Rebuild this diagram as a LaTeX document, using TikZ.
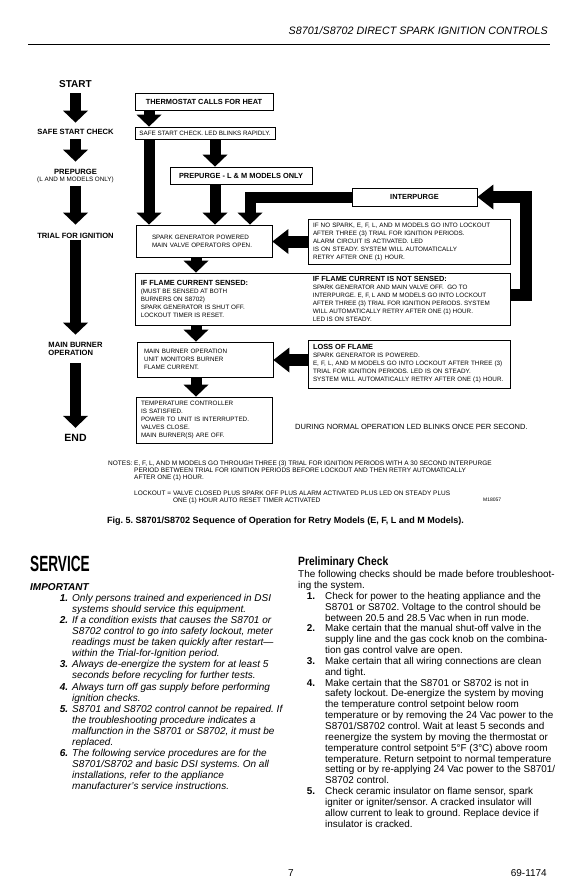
\documentclass[tikz,border=0pt]{standalone}
\usepackage{fontspec}
\setmainfont{Liberation Sans}
\usepackage{graphicx}
\usetikzlibrary{arrows.meta,positioning,calc}
\frenchspacing

\newcommand{\sm}{\fontsize{6.3}{8}\selectfont}
\newcommand{\hd}{\fontsize{7.4}{8}\selectfont\bfseries}
\newcommand{\inum}[1]{\makebox[38pt][r]{\bfseries#1}\hspace{4pt}}
\newcommand{\icnt}{\hspace*{42pt}}
\newcommand{\pnum}[1]{\makebox[17pt][r]{\bfseries#1}\hspace{10pt}}
\newcommand{\pcnt}{\hspace*{27pt}}

\begin{document}
\begin{tikzpicture}[x=1pt, y=-1pt,
  box/.style={draw, line width=0.8pt, inner sep=0pt, font=\sm},
  txt/.style={inner sep=0pt, align=left, font=\sm},
  lbl/.style={inner sep=0pt, align=center, font=\fontsize{7.6}{8}\selectfont\bfseries},
  fat/.style={line width=11pt, -{Triangle[width=25pt, length=12pt, line width=0pt]}},
  fatl/.style={line width=12pt, -{Triangle[width=25pt, length=16pt, line width=0pt]}},
  body/.style={inner sep=0pt, anchor=base west},
]

% page
\path[use as bounding box, fill=white] (0,0) rectangle (577,892);

% running head
\node[body, anchor=base east, font=\fontsize{10.7}{12}\selectfont\itshape] (head) at (548,34) {S8701/S8702 DIRECT SPARK IGNITION CONTROLS};
\draw[line width=0.8pt] (28,44) -- (550,44);

% left column of the chart
\node[lbl, font=\fontsize{10}{12}\selectfont\bfseries] (lstart) at (75.5,84) {START};
\node[lbl] (lsafe) at (75.5,132) {SAFE START CHECK};
\node[lbl] (lprep) at (75.5,172) {PREPURGE};
\node[lbl, font=\sm, below=1.8pt of lprep] (lprepsub) {(L AND M MODELS ONLY)};
\node[lbl] (ltrial) at (75.5,236) {TRIAL FOR IGNITION};
\node[lbl, align=left] (lmain) at (75.5,349) {MAIN BURNER\\OPERATION};
\node[lbl, font=\fontsize{10.5}{12}\selectfont\bfseries] (lend) at (75.5,438) {END};

\draw[fat, shorten <=5.4pt, shorten >=6.5pt] (lstart) -- (lsafe);
\draw[fat, shorten <=4.5pt, shorten >=7.5pt] (lsafe) -- (lprep);
\draw[fat, shorten <=2.7pt, shorten >=8.5pt] (lprepsub) -- (ltrial);
\draw[fat, shorten <=1.5pt, shorten >=7.5pt] (ltrial) -- (lmain);
\draw[fat, shorten <=7.5pt, shorten >=6.4pt] (lmain) -- (lend);

% boxes
\node[box, font=\hd, minimum width=138pt, minimum height=17pt] (thermo) at (204,101.5) {THERMOSTAT CALLS FOR HEAT};
\node[box, minimum width=140pt, minimum height=12pt] (safe) at (205,133) {SAFE START CHECK. LED BLINKS RAPIDLY.};
\node[box, font=\hd, minimum width=142pt, minimum height=17pt] (prep) at (241,175.5) {PREPURGE - L \& M MODELS ONLY};
\node[box, font=\hd, minimum width=125pt, minimum height=18pt] (inter) at (414.5,197) {INTERPURGE};
\node[box, align=left, text width=104pt, inner xsep=16pt, minimum height=32pt] (spark) at (204,241) {SPARK GENERATOR POWERED\\MAIN VALVE OPERATORS OPEN.};
\node[box, align=left, text width=192pt, inner xsep=5pt, minimum height=45pt] (nospark) at (409,241.5) {IF NO SPARK, E, F, L, AND M MODELS GO INTO LOCKOUT\\AFTER THREE (3) TRIAL FOR IGNITION PERIODS.\\ALARM CIRCUIT IS ACTIVATED. LED\\IS ON STEADY. SYSTEM WILL AUTOMATICALLY\\RETRY AFTER ONE (1) HOUR.};
\node[box, minimum width=375pt, minimum height=52pt] (sensed) at (322.5,299) {};
\node[txt, anchor=west] (sensedl) at ([xshift=6pt]sensed.west) {{\hd IF FLAME CURRENT SENSED:}\\(MUST BE SENSED AT BOTH\\BURNERS ON S8702)\\SPARK GENERATOR IS SHUT OFF.\\LOCKOUT TIMER IS RESET.};
\node[txt, anchor=west] (sensedr) at ([xshift=178pt]sensed.west) {{\hd IF FLAME CURRENT IS NOT SENSED:}\\SPARK GENERATOR AND MAIN VALVE OFF.~ GO TO\\INTERPURGE. E, F, L AND M MODELS GO INTO LOCKOUT\\AFTER THREE (3) TRIAL FOR IGNITION PERIODS. SYSTEM\\WILL AUTOMATICALLY RETRY AFTER ONE (1) HOUR.\\LED IS ON STEADY.};
\node[box, align=left, text width=122pt, inner xsep=7pt, minimum height=35pt] (mainb) at (205,359.5) {MAIN BURNER OPERATION\\UNIT MONITORS BURNER\\FLAME CURRENT.};
\node[box, align=left, text width=192pt, inner xsep=5pt, minimum height=48pt] (lossf) at (409,364) {{\hd LOSS OF FLAME}\\SPARK GENERATOR IS POWERED.\\E, F, L, AND M MODELS GO INTO LOCKOUT AFTER THREE (3)\\TRIAL FOR IGNITION PERIODS. LED IS ON STEADY.\\SYSTEM WILL AUTOMATICALLY RETRY AFTER ONE (1) HOUR.};
\node[box, align=left, text width=126pt, inner xsep=5pt, minimum height=46pt] (temp) at (204,420) {TEMPERATURE CONTROLLER\\IS SATISFIED.\\POWER TO UNIT IS INTERRUPTED.\\VALVES CLOSE.\\MAIN BURNER(S) ARE OFF.};

% flow between the boxes
\draw[fat] ([xshift=-55pt]thermo.south) -- ([xshift=-55pt]thermo.south |- safe.north);
\draw[fat] ([xshift=-56pt]safe.south) -- ([xshift=-56pt]safe.south |- spark.north);
\draw[fat] ([xshift=10pt]safe.south) -- ([xshift=10pt]safe.south |- prep.north);
\draw[fat] ([xshift=-26pt]prep.south) -- ([xshift=-26pt]prep.south |- spark.north);
\draw[fat] (inter.west) -| ([xshift=46pt]spark.north);
\draw[fatl] (nospark.west) -- (nospark.west -| spark.east);
\draw[fatl] ([yshift=4pt]sensed.east) -- ++(16,0) |- (inter.east);
\draw[fat] ([xshift=-8pt]spark.south) -- ([xshift=-8pt]spark.south |- sensed.north);
\draw[fat] ([xshift=-9pt]mainb.north |- sensed.south) -- ([xshift=-9pt]mainb.north);
\draw[fat] ([xshift=-9pt]mainb.south) -- ([xshift=-9pt]mainb.south |- temp.north);
\draw[fatl] ([yshift=4pt]lossf.west) -- ([yshift=4pt]lossf.west -| mainb.east);

\node[body, font=\fontsize{7.5}{8}\selectfont] (normal) at (295,429.7) {DURING NORMAL OPERATION LED BLINKS ONCE PER SECOND.};

% notes and caption
\node[body, font=\fontsize{6.5}{7}\selectfont] (notes) at (108,465.3) {NOTES:};
\node[body] (notetxt) at (134,465.3) {\parbox[t]{420pt}{\fontsize{6.5}{7}\selectfont
E, F, L, AND M MODELS GO THROUGH THREE (3) TRIAL FOR IGNITION PERIODS WITH A 30 SECOND INTERPURGE\\
PERIOD BETWEEN TRIAL FOR IGNITION PERIODS BEFORE LOCKOUT AND THEN RETRY AUTOMATICALLY\\
AFTER ONE (1) HOUR.}};
\node[body] (lockout) at (134,495) {\parbox[t]{420pt}{\fontsize{6.5}{7}\selectfont
LOCKOUT = VALVE CLOSED PLUS SPARK OFF PLUS ALARM ACTIVATED PLUS LED ON STEADY PLUS\\
\hphantom{LOCKOUT = }ONE (1) HOUR AUTO RESET TIMER ACTIVATED}};
\node[body, font=\fontsize{5}{6}\selectfont] (mark) at (483,501) {M18057};
\node[body, font=\fontsize{9}{11}\selectfont\bfseries] (caption) at (107,523.5) {Fig. 5. S8701/S8702 Sequence of Operation for Retry Models (E, F, L and M Models).};

% service column
\node[body] (service) at (30,571.5) {\scalebox{0.62}[1]{\fontsize{22}{24}\selectfont\bfseries SERVICE}};
\node[body, font=\fontsize{10}{11}\selectfont\bfseries\itshape] (important) at (30,590.6) {IMPORTANT};
\node[body] (implist) at (30,601.6) {\parbox[t]{300pt}{\fontsize{10}{11.05}\selectfont\itshape
\inum{1.}Only persons trained and experienced in DSI\\
\icnt systems should service this equipment.\\
\inum{2.}If a condition exists that causes the S8701 or\\
\icnt S8702 control to go into safety lockout, meter\\
\icnt readings must be taken quickly after restart—\\
\icnt within the Trial-for-Ignition period.\\
\inum{3.}Always de-energize the system for at least 5\\
\icnt seconds before recycling for further tests.\\
\inum{4.}Always turn off gas supply before performing\\
\icnt ignition checks.\\
\inum{5.}S8701 and S8702 control cannot be repaired. If\\
\icnt the troubleshooting procedure indicates a\\
\icnt malfunction in the S8701 or S8702, it must be\\
\icnt replaced.\\
\inum{6.}The following service procedures are for the\\
\icnt S8701/S8702 and basic DSI systems. On all\\
\icnt installations, refer to the appliance\\
\icnt manufacturer's service instructions.}};

% preliminary check column
\node[body, font=\fontsize{12}{14}\selectfont\bfseries] (prelim) at (298,565) {\scalebox{0.86}[1]{Preliminary Check}};
\node[body] (prelimtxt) at (298,577.6) {\parbox[t]{270pt}{\fontsize{9.9}{10.85}\selectfont
The following checks should be made before troubleshoot-\\
ing the system.\\
\pnum{1.}Check for power to the heating appliance and the\\
\pcnt S8701 or S8702. Voltage to the control should be\\
\pcnt between 20.5 and 28.5 Vac when in run mode.\\
\pnum{2.}Make certain that the manual shut-off valve in the\\
\pcnt supply line and the gas cock knob on the combina-\\
\pcnt tion gas control valve are open.\\
\pnum{3.}Make certain that all wiring connections are clean\\
\pcnt and tight.\\
\pnum{4.}Make certain that the S8701 or S8702 is not in\\
\pcnt safety lockout. De-energize the system by moving\\
\pcnt the temperature control setpoint below room\\
\pcnt temperature or by removing the 24 Vac power to the\\
\pcnt S8701/S8702 control. Wait at least 5 seconds and\\
\pcnt reenergize the system by moving the thermostat or\\
\pcnt temperature control setpoint 5°F (3°C) above room\\
\pcnt temperature. Return setpoint to normal temperature\\
\pcnt setting or by re-applying 24 Vac power to the S8701/\\
\pcnt S8702 control.\\
\pnum{5.}Check ceramic insulator on flame sensor, spark\\
\pcnt igniter or igniter/sensor. A cracked insulator will\\
\pcnt allow current to leak to ground. Replace device if\\
\pcnt insulator is cracked.}};

% page foot
\node[body, font=\fontsize{10}{12}\selectfont] (pageno) at (288,876.5) {7};
\node[body, anchor=base east, font=\fontsize{10}{12}\selectfont] (docno) at (547,876.5) {69-1174};

\end{tikzpicture}
\end{document}
